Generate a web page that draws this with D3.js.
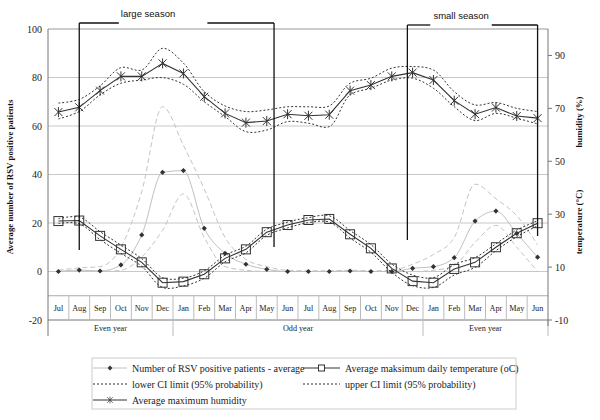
<!DOCTYPE html>
<html><head><meta charset="utf-8">
<script src="https://cdn.jsdelivr.net/npm/d3@7"></script>
<style>body{margin:0;background:#fff}svg{display:block}</style>
</head><body>
<svg id="c" width="600" height="420"></svg>
<script>
const months = ["Jul","Aug","Sep","Oct","Nov","Dec","Jan","Feb","Mar","Apr","May","Jun",
                "Jul","Aug","Sep","Oct","Nov","Dec","Jan","Feb","Mar","Apr","May","Jun"];
const yearGroups = [["Even year",0,6],["Odd year",6,18],["Even year",18,24]];
const rsv      = [0,0.6,0.2,2.7,15.1,40.9,41.6,17.8,7.5,3.0,0.9,0, 0,0,0.2,0,0,1.3,2.0,5.7,20.8,24.9,15.7,5.9];
const rsvUpper = [0.5,1.5,2,10,33,68,52,34,14,5,2,0.5, 0.3,0.3,0.5,0.3,0.5,3,7,14,36,30,23,11];
const rsvLower = [0,0,0,0.5,6,17,32,14,2,0.5,0,0, 0,0,0,0,0,0,0.5,2.5,12,19,10,0];
const temp      = [27.4,27.6,21.8,16.7,11.8,4.1,4.5,7.3,13.3,16.7,23.2,25.9, 27.8,28.2,22.4,17.1,9.5,4.7,4.1,9.3,11.8,17.5,22.8,26.6];
const tempUpper = [28.3,28.9,23.4,18.3,13.2,6.0,5.8,8.6,14.5,17.9,24.3,27.0, 28.7,29.4,23.8,18.5,11.2,7.0,6.0,11.0,13.6,18.8,24.0,27.5];
const tempLower = [26.5,26.4,20.4,15.2,10.3,2.3,2.9,5.8,12.0,15.4,22.0,24.8, 26.8,27.0,21.0,15.6,8.0,3.0,2.3,7.0,9.9,16.2,21.5,25.6];
const hum      = [68.6,70.4,76.7,82.1,82.1,87.0,83.2,74.4,68.1,64.6,65.2,67.8, 67.2,67.6,76.7,78.8,82.1,83.5,80.7,72.9,67.8,70.3,67.1,66.3];
const humUpper = [72.0,73.4,78.5,85.4,84.5,92.7,87.1,76.3,70.9,68.8,69.4,70.6, 70.6,70.9,79.5,81.4,85.2,85.8,84.5,76.3,71.3,72.2,70.0,68.8];
const humLower = [66.0,68.8,75.1,79.5,80.7,81.6,79.1,72.5,66.9,61.2,61.8,65.0, 64.4,63.1,75.1,77.6,80.7,81.4,77.6,70.6,65.4,68.1,66.3,64.1];
const leftTicks = [-20,0,20,40,60,80,100];
const rightTicks = [-10,10,30,50,70,90];
const seasons = [{label:"large season", from:1, to:10.35, text:4.3, gap1:2.9, gap2:7.15, top:23, bot1:250, bot2:247},
                 {label:"small season", from:16.75, to:23, text:19.33, gap1:17.85, gap2:20.8, top:25, bot1:240, bot2:236}];

const svg = d3.select("#c");
const L=48, R=548, T=29, B=320;
const x = d3.scaleBand().domain(d3.range(24)).range([L,R]);
const bw = x.bandwidth();
const cx = i => x(i)+bw/2;
const yL = d3.scaleLinear().domain([-20,100]).range([B,T]);
const yR = d3.scaleLinear().domain([-10,100]).range([B,T]);
const serif = '"Liberation Serif"';
const sans = '"Liberation Sans"';

svg.append("g").selectAll("line").data([0,20,40,60,80]).join("line")
  .attr("x1",L).attr("x2",R).attr("y1",d=>yL(d)).attr("y2",d=>yL(d))
  .attr("stroke","#c8c8c8").attr("stroke-width",1);
svg.append("line").attr("x1",L).attr("x2",R).attr("y1",yL(100)).attr("y2",yL(100)).attr("stroke","#999");
const yCat = yL(-10);
svg.append("line").attr("x1",L).attr("x2",R).attr("y1",yCat).attr("y2",yCat).attr("stroke","#aaa");
svg.append("line").attr("x1",L).attr("x2",R).attr("y1",B).attr("y2",B).attr("stroke","#777");
svg.append("g").selectAll("line").data(d3.range(1,24)).join("line")
  .attr("x1",d=>x(d)).attr("x2",d=>x(d)).attr("y1",yCat).attr("y2",B).attr("stroke","#bbb");
svg.append("g").selectAll("line").data([6,18]).join("line")
  .attr("x1",d=>x(d)).attr("x2",d=>x(d)).attr("y1",B).attr("y2",B+16).attr("stroke","#bbb");
svg.append("line").attr("x1",R).attr("x2",R).attr("y1",B).attr("y2",B+16).attr("stroke","#bbb");
svg.append("g").selectAll("text").data(months).join("text")
  .attr("x",(d,i)=>cx(i)).attr("y",(yCat+B)/2+3).attr("text-anchor","middle")
  .style("font-family",serif).attr("font-size",8.2).attr("fill","#222").text(d=>d);
svg.append("g").selectAll("text").data(yearGroups).join("text")
  .attr("x",d=>(x(d[1])+ (d[2]<24? x(d[2]) : R))/2).attr("y",B+11).attr("text-anchor","middle")
  .style("font-family",serif).attr("font-size",8.2).attr("fill","#222").text(d=>d[0]);
svg.append("line").attr("x1",L).attr("x2",L).attr("y1",T).attr("y2",B+16).attr("stroke","#777");
svg.append("g").selectAll("text").data(leftTicks).join("text")
  .attr("x",L-6).attr("y",d=>yL(d)+3.5).attr("text-anchor","end")
  .style("font-family",serif).attr("font-size",10).attr("fill","#222").text(d=>d);
svg.append("line").attr("x1",R).attr("x2",R).attr("y1",T).attr("y2",B+6).attr("stroke","#777");
svg.append("g").selectAll("line").data(rightTicks).join("line")
  .attr("x1",R).attr("x2",R+4).attr("y1",d=>yR(d)).attr("y2",d=>yR(d)).attr("stroke","#777");
svg.append("g").selectAll("text").data(rightTicks).join("text")
  .attr("x",R+7).attr("y",d=>yR(d)+3.5).attr("text-anchor","start")
  .style("font-family",serif).attr("font-size",10).attr("fill","#222").text(d=>d);
const title = (tx,ty,t)=>svg.append("text").attr("transform",`translate(${tx},${ty}) rotate(-90)`).attr("text-anchor","middle")
  .style("font-family",serif).attr("font-weight","bold").attr("font-size",8.8).attr("fill","#111").text(t);
title(13,177,"Average number of RSV positive patients");
title(582,122,"humidity (%)");
title(582,222,"temperature (°C)");

const lineL = (arr,curve) => d3.line().x((d,i)=>cx(i)).y(d=>yL(d)).curve(curve||d3.curveLinear)(arr);
const lineR = (arr,curve) => d3.line().x((d,i)=>cx(i)).y(d=>yR(d)).curve(curve||d3.curveLinear)(arr);
const smooth = d3.curveCatmullRom.alpha(0.5);

[rsvUpper,rsvLower].forEach(a=>svg.append("path").attr("d",lineL(a,d3.curveMonotoneX)).attr("fill","none")
  .attr("stroke","#c4c4c4").attr("stroke-width",1).attr("stroke-dasharray","5,3"));
svg.append("path").attr("d",lineL(rsv,d3.curveMonotoneX)).attr("fill","none").attr("stroke","#c0c0c0").attr("stroke-width",1);
svg.append("g").selectAll("path").data(rsv).join("path")
  .attr("transform",(d,i)=>`translate(${cx(i)},${yL(d)})`)
  .attr("d","M0,-2.6L2.6,0L0,2.6L-2.6,0Z").attr("fill","#333");

[tempUpper,tempLower].forEach(a=>svg.append("path").attr("d",lineR(a,smooth)).attr("fill","none")
  .attr("stroke","#333").attr("stroke-width",1).attr("stroke-dasharray","2,2"));
svg.append("path").attr("d",lineR(temp)).attr("fill","none").attr("stroke","#333").attr("stroke-width",1.1);
svg.append("g").selectAll("rect").data(temp).join("rect")
  .attr("x",(d,i)=>cx(i)-4.5).attr("y",d=>yR(d)-4.5).attr("width",9).attr("height",9)
  .attr("fill","none").attr("stroke","#333").attr("stroke-width",1);

[humUpper,humLower].forEach(a=>svg.append("path").attr("d",lineR(a,smooth)).attr("fill","none")
  .attr("stroke","#333").attr("stroke-width",1).attr("stroke-dasharray","2,2"));
svg.append("path").attr("d",lineR(hum)).attr("fill","none").attr("stroke","#333").attr("stroke-width",1.1);
const star = "M-4,-4L4,4M-4,4L4,-4M0,-5L0,5";
svg.append("g").selectAll("path").data(hum).join("path")
  .attr("transform",(d,i)=>`translate(${cx(i)},${yR(d)})`)
  .attr("d",star).attr("fill","none").attr("stroke","#333").attr("stroke-width",1);

seasons.forEach(s=>{
  const p = v => cx(0)+v*bw;
  const g = svg.append("g").attr("stroke","#111").attr("stroke-width",1.3);
  g.append("line").attr("x1",p(s.from)).attr("x2",p(s.from)).attr("y1",s.top).attr("y2",s.bot1);
  g.append("line").attr("x1",p(s.to)).attr("x2",p(s.to)).attr("y1",s.top).attr("y2",s.bot2);
  g.append("line").attr("x1",p(s.from)).attr("x2",p(s.gap1)).attr("y1",s.top).attr("y2",s.top);
  g.append("line").attr("x1",p(s.gap2)).attr("x2",p(s.to)).attr("y1",s.top).attr("y2",s.top);
  svg.append("text").attr("x",p(s.text)).attr("y",s.top-6).attr("text-anchor","middle")
    .style("font-family",sans).attr("font-size",9.5).attr("fill","#111").text(s.label);
});

const lg = svg.append("g");
lg.append("rect").attr("x",92).attr("y",358).attr("width",424).attr("height",51)
  .attr("fill","#fff").attr("stroke","#ccc");
const items = [
  {t:"Number of RSV positive patients - average", x:93, y:368, w:34, stroke:"#c0c0c0", dash:null, m:"diamond"},
  {t:"Average maksimum daily temperature (oC)", x:303, y:368, w:37, stroke:"#333", dash:null, m:"square"},
  {t:"lower CI limit (95% probability)", x:93, y:384, w:34, stroke:"#333", dash:"2,2", m:null},
  {t:"upper CI limit (95% probability)", x:303, y:384, w:37, stroke:"#333", dash:"2,2", m:null},
  {t:"Average maximum humidity", x:93, y:400, w:34, stroke:"#333", dash:null, m:"star"}
];
items.forEach(it=>{
  lg.append("line").attr("x1",it.x).attr("x2",it.x+it.w).attr("y1",it.y).attr("y2",it.y)
    .attr("stroke",it.stroke).attr("stroke-width",1).attr("stroke-dasharray",it.dash);
  const mx = it.x+it.w/2;
  if(it.m==="diamond") lg.append("path").attr("transform",`translate(${mx},${it.y})`).attr("d","M0,-2.4L2.4,0L0,2.4L-2.4,0Z").attr("fill","#333");
  if(it.m==="square") lg.append("rect").attr("x",mx-3).attr("y",it.y-3).attr("width",6).attr("height",6).attr("fill","#fff").attr("stroke","#333");
  if(it.m==="star") lg.append("path").attr("transform",`translate(${mx},${it.y}) scale(0.7)`).attr("d",star).attr("fill","none").attr("stroke","#333");
  lg.append("text").attr("x",it.x+it.w+5).attr("y",it.y+3.5).style("font-family",serif).attr("font-size",10)
    .attr("fill","#222").text(it.t);
});
</script>
</body></html>
